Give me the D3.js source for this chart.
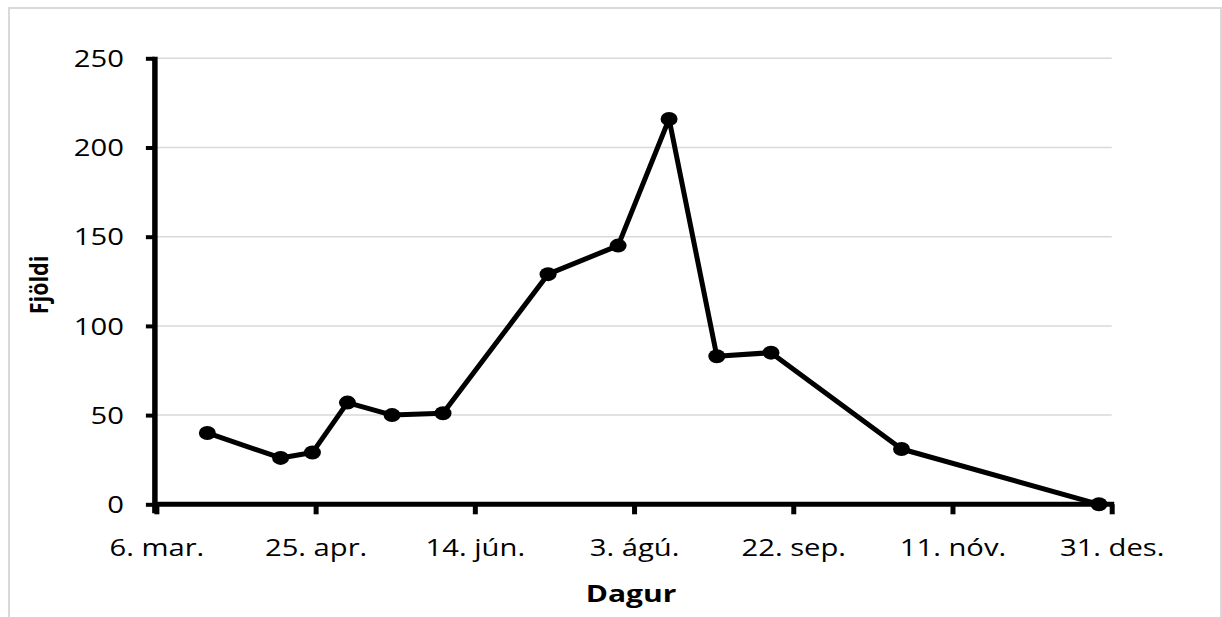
<!DOCTYPE html>
<html><head><meta charset="utf-8">
<script src="https://cdn.jsdelivr.net/npm/d3@7"></script>
<style>
body{margin:0;background:#fff}
svg{display:block}
text{font-family:"Open Sans",sans-serif;fill:#000}
</style>
</head><body>
<svg id="c" width="1222" height="617"></svg>
<script>
// ---- data ----
const dates = ["2015-03-22","2015-04-14","2015-04-24","2015-05-05","2015-05-19","2015-06-04",
               "2015-07-07","2015-07-29","2015-08-14","2015-08-29","2015-09-15","2015-10-26","2015-12-27"];
const counts = [40, 26, 29, 57, 50, 51, 129, 145, 216, 83, 85, 31, 0];
const xTickDates = ["2015-03-06","2015-04-25","2015-06-14","2015-08-03","2015-09-22","2015-11-11","2015-12-31"];
const xTickLabels = ["6. mar.","25. apr.","14. jún.","3. ágú.","22. sep.","11. nóv.","31. des."];
const yTicks = [0, 50, 100, 150, 200, 250];
const xTitle = "Dagur";
const yTitle = "Fjöldi";

// ---- setup ----
const parse = d3.utcParse("%Y-%m-%d");
const data = dates.map((d, i) => ({date: parse(d), value: counts[i]}));
const tickDates = xTickDates.map(parse);
const labelOf = new Map(tickDates.map((d, i) => [+d, xTickLabels[i]]));

const svg = d3.select("#c");
const SX = 1.27; // horizontal text stretch

const x = d3.scaleUtc().domain([tickDates[0], tickDates[tickDates.length - 1]]).range([156.4, 1111.7]);
const y = d3.scaleLinear().domain([0, 250]).range([504.3, 58.3]);

// outer border
svg.append("rect").attr("x", 9).attr("y", 8).attr("width", 1212).attr("height", 640)
  .attr("fill", "#fff").attr("stroke", "#d9d9d9").attr("stroke-width", 2);

// gridlines
svg.append("g").selectAll("line").data(yTicks.filter(v => v > 0)).join("line")
  .attr("x1", x.range()[0]).attr("x2", x.range()[1])
  .attr("y1", d => y(d)).attr("y2", d => y(d))
  .attr("stroke", "#d9d9d9").attr("stroke-width", 1.5);

// x axis
const gx = svg.append("g").attr("transform", `translate(0,${y(0)})`)
  .call(d3.axisBottom(x).tickValues(tickDates).tickSize(10).tickSizeOuter(0)
        .tickFormat(d => labelOf.get(+d)));
gx.select(".domain").attr("stroke", "#000").attr("stroke-width", 5)
  .attr("d", `M${x.range()[0] - 3},0H${x.range()[1] + 2.5}`);
gx.selectAll(".tick line").attr("stroke", "#000").attr("stroke-width", 5);
gx.selectAll(".tick text").attr("font-size", 23).attr("y", 52).attr("dy", 0)
  .attr("font-family", "Open Sans").attr("fill", "#000")
  .attr("transform", `scale(${SX},1)`);

// y axis
const gy = svg.append("g").attr("transform", `translate(${x.range()[0] - 1.5},0)`)
  .call(d3.axisLeft(y).tickValues(yTicks).tickSize(9).tickSizeOuter(0));
gy.select(".domain").attr("stroke", "#000").attr("stroke-width", 5.5)
  .attr("d", `M0,${y(250) - 1.5}V${y(0) + 9}`);
gy.selectAll(".tick line").attr("stroke", "#000").attr("stroke-width", 4);
gy.selectAll(".tick text").attr("font-size", 23).attr("x", -31 / SX).attr("dy", "0.36em")
  .attr("font-family", "Open Sans").attr("fill", "#000")
  .attr("transform", `scale(${SX},1)`);

// line
const line = d3.line().x(d => x(d.date)).y(d => y(d.value));
svg.append("path").datum(data).attr("d", line)
  .attr("fill", "none").attr("stroke", "#000").attr("stroke-width", 5)
  .attr("stroke-linejoin", "round");

// markers
svg.append("g").selectAll("ellipse").data(data).join("ellipse")
  .attr("cx", d => x(d.date)).attr("cy", d => y(d.value))
  .attr("rx", 8.5).attr("ry", 7).attr("fill", "#000");

// titles
svg.append("text").attr("transform", `translate(631,602) scale(1.25,1)`)
  .attr("text-anchor", "middle").attr("font-size", 24).attr("font-weight", "bold").text(xTitle);
svg.append("text").attr("transform", "translate(47.5,285) scale(1.2,1) rotate(-90)")
  .attr("text-anchor", "middle").attr("font-size", 21.5).attr("font-weight", "bold").text(yTitle);
</script>
</body></html>
